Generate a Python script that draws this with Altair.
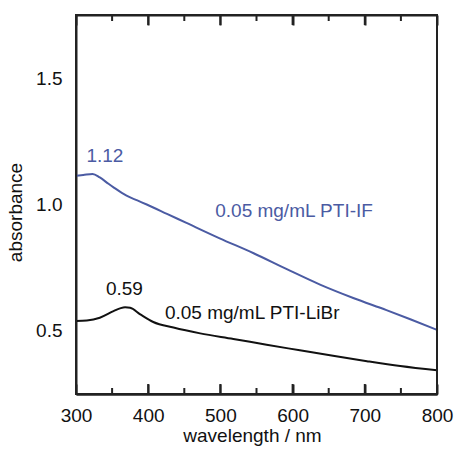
import altair as alt
import pandas as pd

# Spectra (wavelength nm, absorbance)
if_wl = [300, 310, 323, 333, 345, 352, 370, 385, 398, 426, 453, 499, 546, 592, 638, 684, 730, 763, 800]
if_abs = [1.114, 1.117, 1.121, 1.107, 1.082, 1.068, 1.035, 1.016, 1.0, 0.963, 0.927, 0.866, 0.807, 0.744, 0.683, 0.630, 0.582, 0.546, 0.504]

libr_wl = [300, 315, 333, 352, 362, 368, 375, 389, 407, 435, 472, 518, 564, 610, 656, 703, 749, 800]
libr_abs = [0.539, 0.541, 0.552, 0.578, 0.590, 0.593, 0.591, 0.565, 0.535, 0.513, 0.490, 0.468, 0.445, 0.423, 0.401, 0.380, 0.361, 0.344]

series_names = ["0.05 mg/mL PTI-IF", "0.05 mg/mL PTI-LiBr"]

major_ticks = [300, 400, 500, 600, 700, 800]
minor_ticks = [350, 450, 550, 650, 750]
all_x_ticks = [300, 350, 400, 450, 500, 550, 600, 650, 700, 750, 800]
y_ticks = [0.25, 0.5, 1.0, 1.5, 1.75]

label_texts = ["1.12", "0.05 mg/mL PTI-IF", "0.59", "0.05 mg/mL PTI-LiBr"]
label_series = ["0.05 mg/mL PTI-IF", "0.05 mg/mL PTI-IF", "0.05 mg/mL PTI-LiBr", "0.05 mg/mL PTI-LiBr"]
label_wl = [340, 602, 367, 544]
label_abs = [1.192, 0.976, 0.667, 0.569]

BLUE = "#4b5ba3"
BLACK = "#111111"
TICK = "#222222"
FONT = "Liberation Sans"
W, H = 361, 379
MAJ, MIN = 10, 6

df = pd.concat([
    pd.DataFrame({"wl": if_wl, "abs": if_abs, "series": series_names[0]}),
    pd.DataFrame({"wl": libr_wl, "abs": libr_abs, "series": series_names[1]}),
])
lab = pd.DataFrame({"text": label_texts, "series": label_series, "wl": label_wl, "abs": label_abs})
maj = pd.DataFrame({"wl": major_ticks})
mnr = pd.DataFrame({"wl": minor_ticks})
one = pd.DataFrame({"wl": [major_ticks[0]]})

xs = alt.Scale(domain=[300, 800], nice=False, zero=False)
ys = alt.Scale(domain=[0.25, 1.75], nice=False, zero=False)
col = alt.Color("series:N", scale=alt.Scale(domain=series_names, range=[BLUE, BLACK]), legend=None)

x_axis = alt.Axis(
    values=all_x_ticks, format="d", ticks=False,
    domain=True, domainColor=TICK, domainWidth=2,
    labelExpr="datum.value % 100 === 0 ? datum.label : ''",
    labelFlush=False, labelPadding=12, titlePadding=1, titleX=176,
    grid=True, gridColor=TICK, gridWidth=2, gridOpacity=1,
    gridDash={"condition": {"test": "datum.value % 100 === 0", "value": [MAJ, H - 2 * MAJ, MAJ, 0]},
              "value": [MIN, H - 2 * MIN, MIN, 0]},
)
y_axis = alt.Axis(
    values=y_ticks, format=".1f", ticks=False,
    domain=True, domainColor=TICK, domainWidth=2,
    labelExpr="datum.value === 0.25 || datum.value === 1.75 ? '' : datum.label",
    labelFlush=False, labelPadding=14, titlePadding=10, titleY=197,
    grid=True, gridColor=TICK, gridWidth=2,
    gridOpacity={"condition": {"test": "datum.value === 0.25 || datum.value === 1.75", "value": 1},
                 "value": 0},
)

lines = alt.Chart(df).mark_line(strokeWidth=2, interpolate="monotone").encode(
    x=alt.X("wl:Q", scale=xs, title="wavelength / nm", axis=x_axis),
    y=alt.Y("abs:Q", scale=ys, title="absorbance", axis=y_axis),
    color=col,
    detail="series:N",
)

labels = alt.Chart(lab).mark_text(font=FONT, fontSize=19, baseline="middle", align="center").encode(
    x=alt.X("wl:Q", scale=xs),
    y=alt.Y("abs:Q", scale=ys),
    text="text:N",
    color=col,
)

def ticks(data, y1, y2):
    return alt.Chart(data).mark_rule(color=TICK, strokeWidth=2).encode(
        x=alt.X("wl:Q", scale=xs), y=alt.value(y1), y2=alt.value(y2))

frame = alt.Chart(one).mark_rect(fillOpacity=0, stroke=TICK, strokeWidth=2).encode(
    x=alt.value(0), x2=alt.value(W), y=alt.value(0), y2=alt.value(H))

chart = alt.layer(
    lines, labels,
    ticks(maj, H, H - MAJ), ticks(mnr, H, H - MIN),
    ticks(maj, 0, MAJ), ticks(mnr, 0, MIN),
    frame,
).properties(
    width=W, height=H,
    padding={"left": 76, "top": 15, "right": 20, "bottom": 56},
    autosize="none",
).configure_axis(
    labelFont=FONT, titleFont=FONT, labelFontSize=19, titleFontSize=19,
    labelColor="#111", titleColor="#111", titleFontWeight="normal",
)

chart.save("out.html", embed_options={"renderer": "svg", "actions": False})
